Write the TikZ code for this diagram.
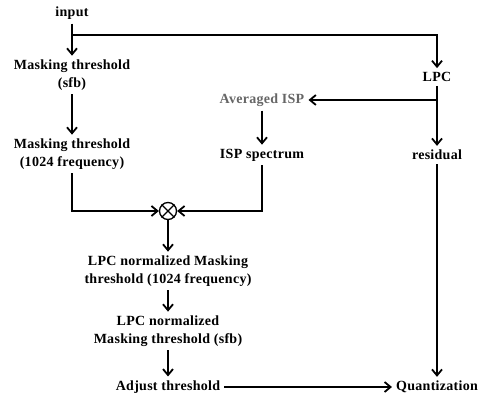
\documentclass[tikz,border=0pt]{standalone}
\usepackage{fontspec}
\setmainfont{Liberation Serif}[LetterSpace=2]
\usetikzlibrary{arrows.meta}
\begin{document}
\begin{tikzpicture}[x=1pt,y=-1pt,
  lbl/.style={font=\fontsize{14}{17.5}\selectfont\bfseries, align=center, inner sep=4pt},
  arr/.style={draw, line width=1.8pt, -{Straight Barb[length=6pt,width=10pt,line width=1.8pt]}},
  ln/.style={draw, line width=1.8pt}]
\useasboundingbox (0,0) rectangle (484,395);
\node[lbl] (input) at (72,13) {input};
\node[lbl] (ms) at (72,75) {Masking threshold\\(sfb)};
\node[lbl] (mf) at (72,154) {Masking threshold\\(1024 frequency)};
\node[lbl] (lpc) at (437,77) {LPC};
\node[lbl, text=black!60] (avg) at (262,100) {Averaged ISP};
\node[lbl] (isp) at (262,155) {ISP spectrum};
\node[lbl] (res) at (437,155) {residual};
\node[draw, circle, line width=1.3pt, minimum size=17pt, inner sep=0pt] (mult) at (168,211) {};
\draw[line width=1.3pt] (mult.north west) -- (mult.south east) (mult.north east) -- (mult.south west);
\node[lbl] (ln1) at (168,271) {LPC normalized Masking\\threshold (1024 frequency)};
\node[lbl] (ln2) at (168,331) {LPC normalized\\Masking threshold (sfb)};
\node[lbl] (adj) at (168,387) {Adjust threshold};
\node[lbl] (quant) at (437,387) {Quantization};
\coordinate (j) at (72,35);
\coordinate (k) at (437,100);
\draw[arr] (input) -- (ms);
\draw[arr] (j) -| (lpc.north);
\draw[arr] (ms) -- (mf);
\draw[arr] (lpc) -- (res);
\draw[arr] (k) -- (avg.east);
\draw[arr] (avg) -- (isp);
\draw[arr] (mf.south) |- (mult.west);
\draw[arr] (isp.south) |- (mult.east);
\draw[arr] (mult) -- (ln1);
\draw[arr] (ln1) -- (ln2);
\draw[arr] (ln2) -- (adj);
\draw[arr] (res) -- (quant);
\draw[arr] (adj) -- (quant);
\end{tikzpicture}
\end{document}
